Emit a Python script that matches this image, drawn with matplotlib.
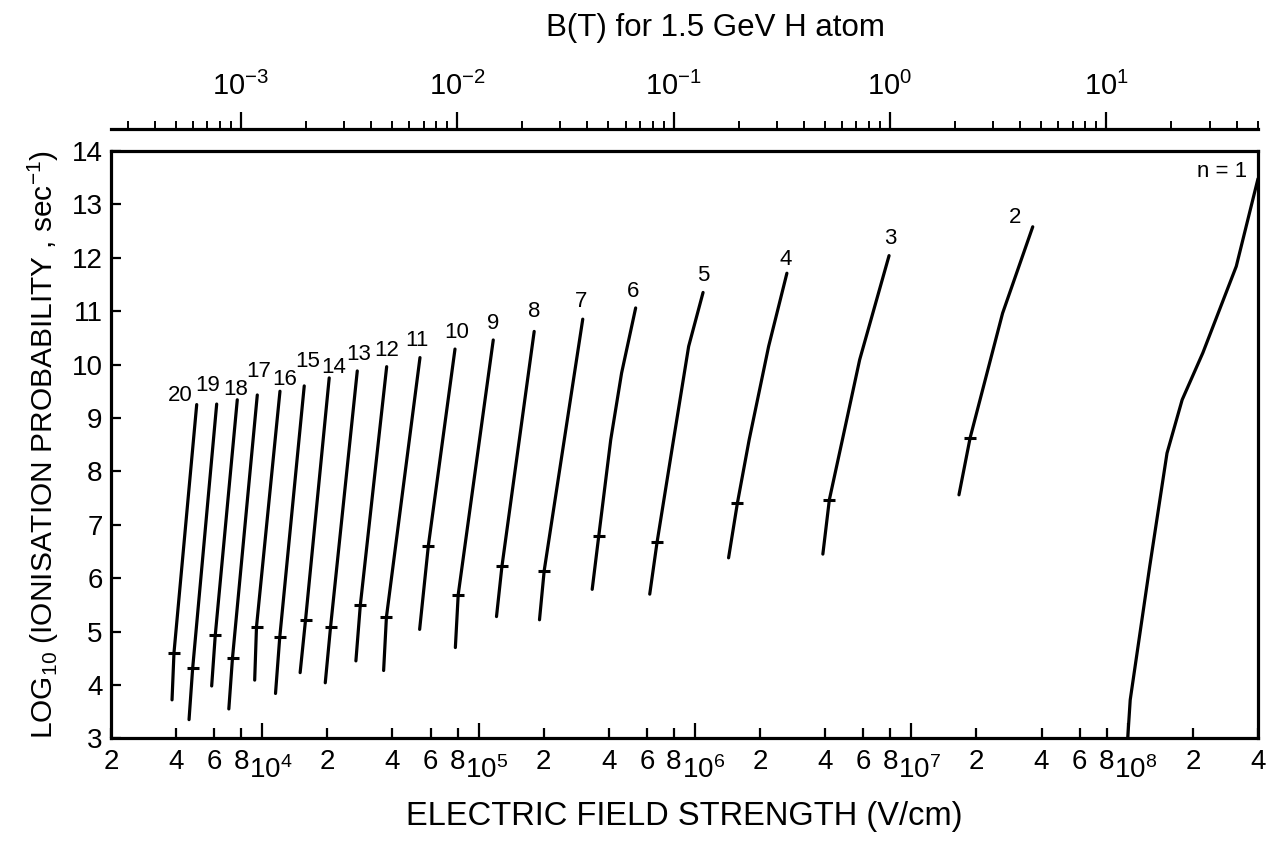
import numpy as np
import matplotlib
matplotlib.use('Agg')
import matplotlib.pyplot as plt
from matplotlib.transforms import ScaledTranslation

plt.rcParams['font.family'] = ['Liberation Sans', 'DejaVu Sans']
plt.rcParams['mathtext.default'] = 'regular'

# principal quantum number of each curve
n_levels = [20, 19, 18, 17, 16, 15, 14, 13, 12, 11, 10, 9, 8, 7, 6, 5, 4, 3, 2, 1]

# electric field (V/cm) along each curve, bottom to top
field_E = [
    [3.83e3, 3.91e3, 4.98e3],
    [4.59e3, 4.77e3, 6.16e3],
    [5.84e3, 6.07e3, 7.67e3],
    [7.01e3, 7.29e3, 9.49e3],
    [9.23e3, 9.41e3, 1.208e4],
    [1.152e4, 1.205e4, 1.564e4],
    [1.497e4, 1.586e4, 2.04e4],
    [1.956e4, 2.07e4, 2.75e4],
    [2.71e4, 2.84e4, 3.76e4],
    [3.64e4, 3.75e4, 5.36e4],
    [5.34e4, 5.86e4, 7.78e4],
    [7.81e4, 8.05e4, 1.169e5],
    [1.21e5, 1.282e5, 1.807e5],
    [1.912e5, 2.01e5, 3.03e5],
    [3.35e5, 3.59e5, 4.08e5, 4.58e5, 5.32e5],
    [6.18e5, 6.68e5, 7.96e5, 9.35e5, 1.09e6],
    [1.43e6, 1.57e6, 1.78e6, 2.19e6, 2.66e6],
    [3.90e6, 4.18e6, 4.80e6, 5.77e6, 7.89e6],
    [1.66e7, 1.87e7, 2.64e7, 3.64e7],
    [1.00e8, 1.027e8, 1.264e8, 1.519e8, 1.785e8, 2.225e8, 3.175e8, 4.0e8],
]
# log10 ionisation probability (sec^-1) at the same points
log_prob = [
    [3.72, 4.60, 9.25],
    [3.35, 4.31, 9.26],
    [3.98, 4.94, 9.34],
    [3.55, 4.51, 9.43],
    [4.09, 5.09, 9.50],
    [3.84, 4.89, 9.60],
    [4.23, 5.22, 9.75],
    [4.04, 5.09, 9.88],
    [4.45, 5.49, 9.96],
    [4.27, 5.27, 10.13],
    [5.04, 6.61, 10.29],
    [4.70, 5.69, 10.46],
    [5.28, 6.22, 10.62],
    [5.22, 6.14, 10.85],
    [5.79, 6.78, 8.59, 9.84, 11.06],
    [5.70, 6.67, 8.59, 10.34, 11.35],
    [6.38, 7.40, 8.59, 10.34, 11.71],
    [6.45, 7.47, 8.59, 10.09, 12.04],
    [7.56, 8.63, 10.96, 12.58],
    [3.0, 3.72, 6.22, 8.34, 9.34, 10.22, 11.84, 13.48],
]

# cross marks on curves n = 20 ... 2
mark_E = [3.91e3, 4.77e3, 6.07e3, 7.29e3, 9.41e3, 1.205e4, 1.586e4, 2.07e4, 2.84e4,
          3.75e4, 5.86e4, 8.05e4, 1.282e5, 2.01e5, 3.59e5, 6.68e5, 1.57e6, 4.18e6, 1.87e7]
mark_P = [4.60, 4.31, 4.94, 4.51, 5.09, 4.89, 5.22, 5.09, 5.49,
          5.27, 6.61, 5.69, 6.22, 6.14, 6.78, 6.67, 7.40, 7.47, 8.63]

# axis ticks
E_major = [1e4, 1e5, 1e6, 1e7, 1e8]
E_major_labels = ['$10^{4}$', '$10^{5}$', '$10^{6}$', '$10^{7}$', '$10^{8}$']
E_minor = [2e3, 4e3, 6e3, 8e3, 2e4, 4e4, 6e4, 8e4, 2e5, 4e5, 6e5, 8e5,
           2e6, 4e6, 6e6, 8e6, 2e7, 4e7, 6e7, 8e7, 2e8, 4e8]
E_minor_labels = ['2', '4', '6', '8'] * 5 + ['2', '4']
B_major = [1e-3, 1e-2, 1e-1, 1e0, 1e1]
B_major_labels = ['$10^{-3}$', '$10^{-2}$', '$10^{-1}$', '$10^{0}$', '$10^{1}$']
y_ticks = list(range(3, 15))

E_PER_TESLA = 7.96e6  # V/cm per tesla for the 1.5 GeV H atom frame

# where each curve's number sits relative to the curve's top end (points)
label_offset = [(-12, 6.5), (-6.3, 13.2), (-1, 7.2), (1.2, 16.6), (3.6, 8.4), (2.7, 17.3),
                (3.4, 7.4), (1.2, 11.5), (0, 12), (-2, 12), (1, 12), (0, 12), (0, 14),
                (-1, 13), (-2, 12), (0, 12), (-1, 10), (1, 12), (-13, 7), (-26, 5)]

fig = plt.figure(figsize=(12.8, 8.5), dpi=100)
ax = fig.add_axes([0.0867, 0.1314, 0.8961, 0.6910])

for n, xs, ys, off in zip(n_levels, field_E, log_prob, label_offset):
    ax.plot(xs, ys, color='black', lw=2.3, solid_capstyle='round')
    txt = 'n = 1' if n == 1 else str(n)
    ax.annotate(txt, (xs[-1], ys[-1]), xytext=off, textcoords='offset points',
                ha='center', va='center', fontsize=16)

ax.plot(mark_E, mark_P, linestyle='none', marker='_', markersize=9,
        markeredgewidth=2.2, color='black')

ax.set_xscale('log')
ax.set_xlim(2e3, 4e8)
ax.set_ylim(3, 14)

ax.set_xticks(E_major)
ax.set_xticklabels(E_major_labels)
ax.set_xticks(E_minor, minor=True)
ax.set_xticklabels(E_minor_labels, minor=True)
ax.set_yticks(y_ticks)
ax.set_yticks([], minor=True)

ax.tick_params(axis='x', which='major', direction='in', length=11, width=1.6,
               pad=13, labelsize=20, top=False)
ax.tick_params(axis='x', which='minor', direction='in', length=7, width=1.6,
               pad=8, labelsize=20, top=False)
ax.tick_params(axis='y', which='major', direction='in', length=7, width=1.6,
               pad=6, labelsize=20, right=False)

# nudge the powers of ten to the right so they clear the "8" labels
nudge = ScaledTranslation(6 / 72, 0, fig.dpi_scale_trans)
for lab in ax.get_xticklabels():
    lab.set_transform(lab.get_transform() + nudge)

for sp in ax.spines.values():
    sp.set_linewidth(2.3)

ax.set_xlabel('ELECTRIC FIELD STRENGTH (V/cm)', fontsize=23.5, labelpad=12)
ax.set_ylabel('LOG$_{10}$ (IONISATION PROBABILITY , sec$^{-1}$)', fontsize=21.5, labelpad=8)

# top axis: magnetic field giving the same motional electric field
ax_top = ax.twiny()
ax_top.set_xscale('log')
ax_top.set_xlim(2e3 / E_PER_TESLA, 4e8 / E_PER_TESLA)
ax_top.set_xticks(B_major)
ax_top.set_xticklabels(B_major_labels)
ax_top.spines['top'].set_position(('outward', 16))
ax_top.spines['top'].set_linewidth(2.3)
for side in ['bottom', 'left', 'right']:
    ax_top.spines[side].set_visible(False)
ax_top.tick_params(axis='x', which='major', direction='out', length=12, width=1.6,
                   pad=8, labelsize=21)
ax_top.tick_params(axis='x', which='minor', direction='out', length=6, width=1.4,
                   labelsize=0)

fig.text(0.5586, 0.967, 'B(T) for 1.5 GeV H atom', ha='center', va='center', fontsize=22.5)

fig.savefig('out.png', dpi=100)
